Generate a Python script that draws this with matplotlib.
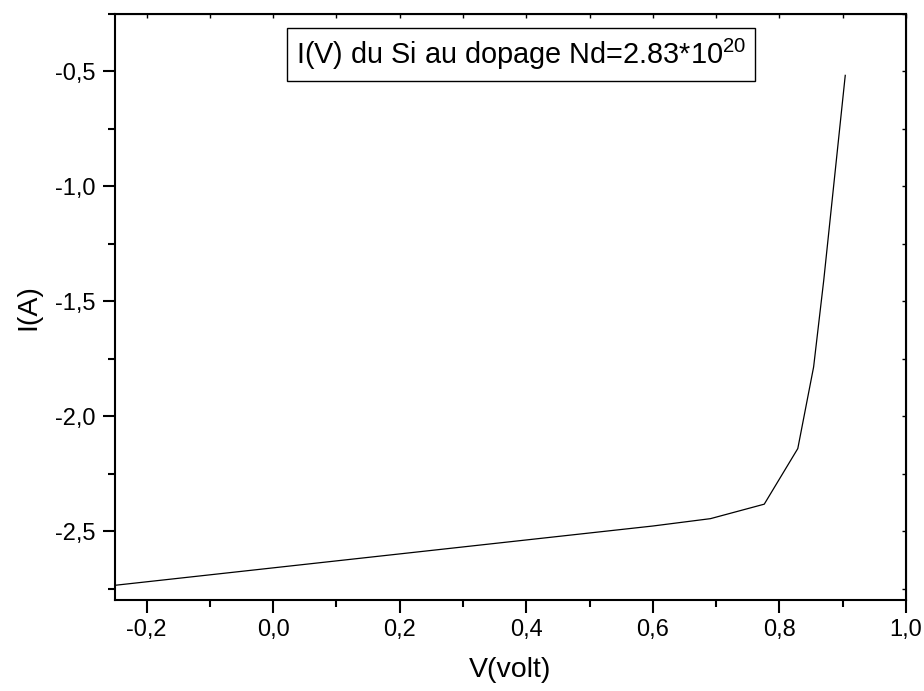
import matplotlib.pyplot as plt
from matplotlib.ticker import MultipleLocator, FuncFormatter

# I(V) du Si
v_volt = [-0.25, 0.60, 0.691, 0.776, 0.829, 0.854, 0.870, 0.904]
i_amp = [-2.736, -2.478, -2.446, -2.383, -2.141, -1.786, -1.409, -0.517]

titre = r"I(V) du Si au dopage Nd=2.83*10$^{20}$"

plt.rcParams["font.family"] = ["Liberation Sans", "DejaVu Sans"]
plt.rcParams["mathtext.fontset"] = "custom"
plt.rcParams["mathtext.rm"] = "Liberation Sans"

fig = plt.figure(figsize=(9.24, 6.91), dpi=100)
ax = fig.add_axes([115 / 924, 1 - 600 / 691, (906 - 115) / 924, (600 - 14) / 691])

ax.plot(v_volt, i_amp, color="black", linewidth=0.9)

ax.set_xlim(-0.25, 1.0)
ax.set_ylim(-2.8, -0.25)

virgule = FuncFormatter(lambda x, pos: f"{x:.1f}".replace(".", ","))
ax.xaxis.set_major_locator(MultipleLocator(0.2))
ax.xaxis.set_minor_locator(MultipleLocator(0.1))
ax.yaxis.set_major_locator(MultipleLocator(0.5))
ax.yaxis.set_minor_locator(MultipleLocator(0.25))
ax.xaxis.set_major_formatter(virgule)
ax.yaxis.set_major_formatter(virgule)

ax.tick_params(which="major", direction="out", length=9, width=1.5, labelsize=17)
ax.tick_params(axis="x", which="major", pad=4.5)
ax.tick_params(axis="y", which="major", pad=5)
ax.tick_params(which="minor", direction="out", length=5, width=1.5)
ax.tick_params(which="both", top=False, right=False)
for s in ax.spines.values():
    s.set_linewidth(1.5)

# petits traits internes en haut et a droite
ax_top = ax.secondary_xaxis("top")
ax_top.xaxis.set_major_locator(MultipleLocator(0.1))
ax_top.tick_params(direction="in", length=3, width=1, labeltop=False)
ax_right = ax.secondary_yaxis("right")
ax_right.yaxis.set_major_locator(MultipleLocator(0.25))
ax_right.tick_params(direction="in", length=3, width=1, labelright=False)

ax.set_xlabel("V(volt)", fontsize=20.5)
ax.xaxis.set_label_coords(0.5, -0.098)
ax.set_ylabel("I(A)", fontsize=20.5, labelpad=10)

ax.text(0.513, 0.931, titre, transform=ax.transAxes, ha="center", va="center",
        fontsize=20.8,
        bbox=dict(boxstyle="square,pad=0.3", facecolor="white", edgecolor="black", linewidth=1))

fig.savefig("out.png", dpi=100)
